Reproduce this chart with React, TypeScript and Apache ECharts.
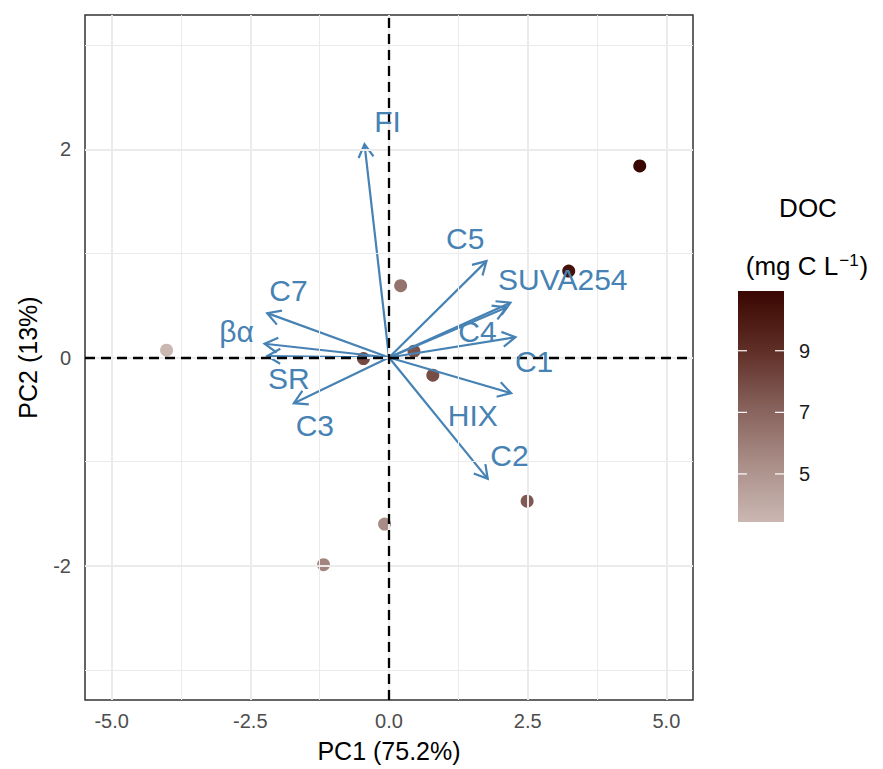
import React, { useEffect, useRef } from "react";
import * as echarts from "echarts";

// Sample scores on the first two principal components, coloured by DOC
const sampleX = [4.52, 3.24, 0.21, -0.46, 0.45, 0.79, 2.49, -0.08, -1.18, -4.01];
const sampleY = [1.84, 0.83, 0.69, -0.01, 0.06, -0.17, -1.38, -1.6, -1.99, 0.07];
const sampleDOC = [10.94, 10.4, 6.4, 8.0, 7.7, 7.9, 7.5, 5.4, 5.7, 3.44];

// Variable loadings (arrow tips) and their label anchors
const loadingNames = ["FI", "C5", "SUVA254", "C4", "C1", "HIX", "C2", "C3", "SR", "βα", "C7"];
const loadingX = [-0.441, 1.757, 2.189, 2.117, 2.279, 2.202, 1.78, -1.715, -2.195, -2.243, -2.195];
const loadingY = [2.048, 0.926, 0.526, 0.481, 0.195, -0.343, -1.166, -0.439, 0.013, 0.132, 0.426];
const labelX = [-0.027, 1.373, 3.132, 1.595, 2.616, 1.51, 2.171, -1.337, -1.805, -2.748, -1.811];
const labelY = [2.267, 1.147, 0.747, 0.25, -0.038, -0.555, -0.942, -0.657, -0.202, 0.25, 0.641];

// Axis ticks and grid lines
const xTicks = [-5, -2.5, 0, 2.5, 5];
const xMinor = [-3.75, -1.25, 1.25, 3.75];
const yTicks = [-2, 0, 2];
const yMinor = [-3, -1, 1, 3];
const docTicks = [5, 7, 9];

const FONT = '"Liberation Sans", Arial, Helvetica, sans-serif';
const ARROW = "#4682b4";
const palette = ["#cbb7b2", "#aa8e88", "#86605a", "#5e2d25", "#3a0601"];

export default function App() {
  const ref = useRef<HTMLDivElement>(null);

  useEffect(() => {
    if (!ref.current) return;
    const chart = echarts.init(ref.current, undefined, { renderer: "svg" });
    const docMin = Math.min(...sampleDOC);
    const docMax = Math.max(...sampleDOC);

    const gridLines = [
      ...xTicks.map((v) => ({ xAxis: v, lineStyle: { color: "#ebebeb", width: 2, type: "solid" } })),
      ...xMinor.map((v) => ({ xAxis: v, lineStyle: { color: "#ebebeb", width: 1, type: "solid" } })),
      ...yTicks.map((v) => ({ yAxis: v, lineStyle: { color: "#ebebeb", width: 2, type: "solid" } })),
      ...yMinor.map((v) => ({ yAxis: v, lineStyle: { color: "#ebebeb", width: 1, type: "solid" } })),
    ];

    const option: any = {
      animation: false,
      backgroundColor: "#ffffff",
      textStyle: { fontFamily: FONT },
      grid: [
        { left: 85, top: 15, width: 608, height: 685, show: true, borderColor: "#333333", borderWidth: 1.5, backgroundColor: "transparent" },
        { left: 738, top: 291, width: 46, height: 231 },
      ],
      xAxis: [
        {
          gridIndex: 0,
          type: "value",
          min: -5.48,
          max: 5.48,
          splitLine: { show: false },
          axisLine: { show: false },
          axisTick: { show: true, customValues: xTicks, length: 7, lineStyle: { color: "#333333", width: 2 } },
          axisLabel: { customValues: xTicks, formatter: (v: number) => v.toFixed(1), color: "#4d4d4d", fontSize: 20, fontFamily: FONT, margin: 11 },
          name: "PC1 (75.2%)",
          nameLocation: "middle",
          nameGap: 38,
          nameTextStyle: { fontSize: 25, color: "#000000", fontFamily: FONT },
        },
        { gridIndex: 1, type: "value", min: 0, max: 1, show: false },
      ],
      yAxis: [
        {
          gridIndex: 0,
          type: "value",
          min: -3.29,
          max: 3.29,
          splitLine: { show: false },
          axisLine: { show: false },
          axisTick: { show: true, customValues: yTicks, length: 7, lineStyle: { color: "#333333", width: 2 } },
          axisLabel: { customValues: yTicks, formatter: (v: number) => String(v), color: "#4d4d4d", fontSize: 20, fontFamily: FONT, margin: 14 },
          name: "PC2 (13%)",
          nameLocation: "middle",
          nameGap: 45,
          nameTextStyle: { fontSize: 25, color: "#000000", fontFamily: FONT },
        },
        {
          gridIndex: 1,
          type: "value",
          min: docMin,
          max: docMax,
          position: "right",
          splitLine: { show: false },
          axisLine: { show: false },
          axisTick: { show: false },
          axisLabel: { customValues: docTicks, color: "#1a1a1a", fontSize: 20, fontFamily: FONT, margin: 15 },
        },
      ],
      visualMap: {
        show: false,
        type: "continuous",
        seriesIndex: 2,
        dimension: 2,
        min: docMin,
        max: docMax,
        inRange: { color: palette },
      },
      graphic: [
        { type: "text", x: 808, y: 208, style: { text: "DOC", align: "center", verticalAlign: "middle", font: `26px ${FONT}`, fill: "#000000" } },
        {
          type: "text",
          x: 807,
          y: 266,
          style: {
            text: "(mg C L{sup|−1})",
            align: "center",
            verticalAlign: "middle",
            font: `26px ${FONT}`,
            fill: "#000000",
            rich: {
              sup: { fontSize: 17, fontFamily: FONT, fill: "#000000", verticalAlign: "top", padding: [0, 1, 12, 1] },
            },
          },
        },
      ],
      series: [
        {
          // panel grid lines
          type: "scatter",
          z: 1,
          silent: true,
          symbolSize: 0,
          data: [[0, 0]],
          markLine: { silent: true, symbol: ["none", "none"], label: { show: false }, data: gridLines },
        },
        {
          // reference lines through the origin
          type: "scatter",
          z: 2,
          silent: true,
          symbolSize: 0,
          data: [[0, 0]],
          markLine: {
            silent: true,
            symbol: ["none", "none"],
            label: { show: false },
            lineStyle: { color: "#000000", width: 2.3, type: [10, 6] },
            data: [{ xAxis: 0 }, { yAxis: 0 }],
          },
        },
        {
          type: "scatter",
          z: 3,
          symbolSize: 13,
          itemStyle: { opacity: 1 },
          data: sampleX.map((x, i) => [x, sampleY[i], sampleDOC[i]]),
        },
        {
          // loading arrows from the origin
          type: "custom",
          z: 4,
          data: loadingX.map((x, i) => [x, loadingY[i]]),
          renderItem: (params: any, api: any) => {
            const o = api.coord([0, 0]);
            const t = api.coord([api.value(0), api.value(1)]);
            const ang = Math.atan2(t[1] - o[1], t[0] - o[0]);
            const L = 15;
            const a = Math.PI / 6;
            const p1 = [t[0] - L * Math.cos(ang - a), t[1] - L * Math.sin(ang - a)];
            const p2 = [t[0] - L * Math.cos(ang + a), t[1] - L * Math.sin(ang + a)];
            return {
              type: "group",
              children: [
                { type: "line", shape: { x1: o[0], y1: o[1], x2: t[0], y2: t[1] }, style: { stroke: ARROW, lineWidth: 2.2 } },
                { type: "polyline", shape: { points: [p1, t, p2] }, style: { stroke: ARROW, lineWidth: 2.2, fill: null } },
              ],
            };
          },
        },
        {
          // loading labels
          type: "custom",
          z: 5,
          data: labelX.map((x, i) => [x, labelY[i]]),
          renderItem: (params: any, api: any) => {
            const p = api.coord([api.value(0), api.value(1)]);
            return {
              type: "text",
              x: p[0],
              y: p[1],
              style: {
                text: loadingNames[params.dataIndex],
                fill: ARROW,
                font: `30px ${FONT}`,
                align: "center",
                verticalAlign: "middle",
              },
            };
          },
        },
        {
          // colour bar for DOC
          type: "custom",
          xAxisIndex: 1,
          yAxisIndex: 1,
          silent: true,
          data: [[0, docMin]],
          renderItem: (params: any, api: any) => {
            const tl = api.coord([0, docMax]);
            const br = api.coord([1, docMin]);
            const stops = palette
              .slice()
              .reverse()
              .map((c, i) => ({ offset: i / (palette.length - 1), color: c }));
            const children: any[] = [
              {
                type: "rect",
                shape: { x: tl[0], y: tl[1], width: br[0] - tl[0], height: br[1] - tl[1] },
                style: { fill: new echarts.graphic.LinearGradient(0, 0, 0, 1, stops) },
              },
            ];
            docTicks.forEach((v) => {
              const y = api.coord([0, v])[1];
              children.push({ type: "line", shape: { x1: tl[0], y1: y, x2: tl[0] + 9, y2: y }, style: { stroke: "#ffffff", lineWidth: 1.2 } });
              children.push({ type: "line", shape: { x1: br[0] - 9, y1: y, x2: br[0], y2: y }, style: { stroke: "#ffffff", lineWidth: 1.2 } });
            });
            return { type: "group", children };
          },
        },
      ],
    };

    chart.setOption(option);
    return () => chart.dispose();
  }, []);

  return <div ref={ref} style={{ position: "absolute", left: 0, top: 0, width: 883, height: 769 }} />;
}
